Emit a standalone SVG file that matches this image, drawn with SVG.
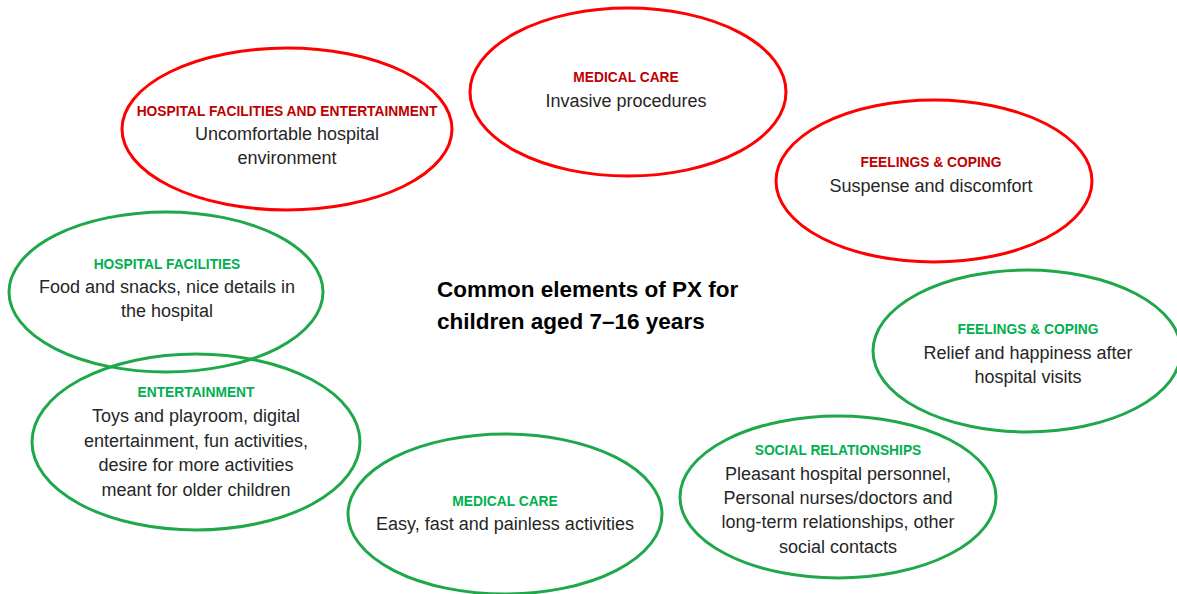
<svg xmlns="http://www.w3.org/2000/svg" width="1177" height="594" viewBox="0 0 1177 594">
<style>
.red{fill:none;stroke:#FF0000;stroke-width:3}
.grn{fill:none;stroke:#1FA84A;stroke-width:3}
text{font-family:"Liberation Sans",Arial,sans-serif;text-anchor:middle}
.tr{fill:#C00000;font-weight:bold;font-size:13.8px}
.tg{fill:#00B050;font-weight:bold;font-size:13.8px}
.b{fill:#262626;font-size:18px}
.c{fill:#000;font-weight:bold;font-size:22.5px;text-anchor:start}
</style>
<rect width="1177" height="594" fill="#fff"/>
<g id="n1"><ellipse class="red" cx="287" cy="129" rx="165" ry="81"/>
<text class="tr" x="287" y="116">HOSPITAL FACILITIES AND ENTERTAINMENT</text>
<text class="b" x="287" y="140">Uncomfortable hospital</text>
<text class="b" x="287" y="164">environment</text></g>
<g id="n2"><ellipse class="red" cx="628" cy="92" rx="158" ry="84"/>
<text class="tr" x="626" y="82">MEDICAL CARE</text>
<text class="b" x="626" y="107">Invasive procedures</text></g>
<g id="n3"><ellipse class="red" cx="934" cy="181" rx="158" ry="81"/>
<text class="tr" x="931" y="167">FEELINGS &amp; COPING</text>
<text class="b" x="931" y="192">Suspense and discomfort</text></g>
<g id="n4"><ellipse class="grn" cx="166" cy="292" rx="157" ry="80"/>
<text class="tg" x="167" y="269">HOSPITAL FACILITIES</text>
<text class="b" x="167" y="293">Food and snacks, nice details in</text>
<text class="b" x="167" y="317">the hospital</text></g>
<g id="n5"><ellipse class="grn" cx="196" cy="442" rx="164" ry="88"/>
<text class="tg" x="196" y="397">ENTERTAINMENT</text>
<text class="b" x="196" y="422">Toys and playroom, digital</text>
<text class="b" x="196" y="447">entertainment, fun activities,</text>
<text class="b" x="196" y="471">desire for more activities</text>
<text class="b" x="196" y="496">meant for older children</text></g>
<g id="n6"><ellipse class="grn" cx="1027" cy="351" rx="154" ry="81"/>
<text class="tg" x="1028" y="334">FEELINGS &amp; COPING</text>
<text class="b" x="1028" y="359">Relief and happiness after</text>
<text class="b" x="1028" y="383">hospital visits</text></g>
<g id="n7"><ellipse class="grn" cx="838" cy="497" rx="158" ry="81"/>
<text class="tg" x="838" y="455">SOCIAL RELATIONSHIPS</text>
<text class="b" x="838" y="480">Pleasant hospital personnel,</text>
<text class="b" x="838" y="504">Personal nurses/doctors and</text>
<text class="b" x="838" y="528">long-term relationships, other</text>
<text class="b" x="838" y="553">social contacts</text></g>
<g id="n8"><ellipse class="grn" cx="505" cy="514" rx="157" ry="80"/>
<text class="tg" x="505" y="506">MEDICAL CARE</text>
<text class="b" x="505" y="530">Easy, fast and painless activities</text></g>
<g id="center">
<text class="c" x="437" y="297">Common elements of PX for</text>
<text class="c" x="437" y="329">children aged 7–16 years</text></g>
<g id="connectors"></g>
</svg>
